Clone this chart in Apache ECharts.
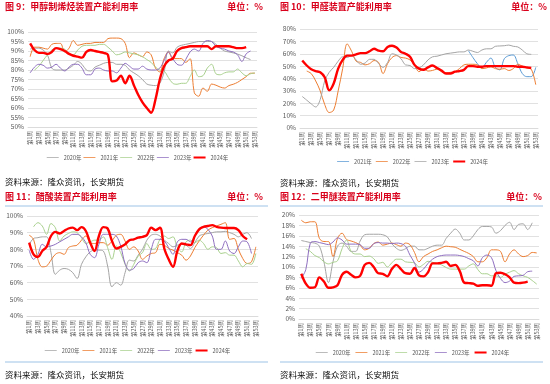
<!DOCTYPE html>
<html><head><meta charset="utf-8">
<script src="https://cdn.jsdelivr.net/npm/echarts/dist/echarts.min.js"></script>
<style>
html,body{margin:0;padding:0;background:#fff;width:550px;height:384px;overflow:hidden}
.p{position:absolute;width:275px;height:192px}
</style></head><body>
<div id="c1" class="p" style="left:0;top:0"></div>
<div id="c2" class="p" style="left:275px;top:0"></div>
<div id="c3" class="p" style="left:0;top:192px"></div>
<div id="c4" class="p" style="left:275px;top:192px"></div>
<script>
const weeks = ['第1周','第2周','第3周','第4周','第5周','第6周','第7周','第8周','第9周','第10周',
'第11周','第12周','第13周','第14周','第15周','第16周','第17周','第18周','第19周','第20周',
'第21周','第22周','第23周','第24周','第25周','第26周','第27周','第28周','第29周','第30周',
'第31周','第32周','第33周','第34周','第35周','第36周','第37周','第38周','第39周','第40周',
'第41周','第42周','第43周','第44周','第45周','第46周','第47周','第48周','第49周','第50周',
'第51周','第52周','第53周'];

// 图9 甲醇制烯烃
const mto2020 = [91,91.5,91.5,90.5,88,81,80,80,80,81, 82.5,84.5,83,80,79.5,81.5,82.5,83.5,84,84, 83,83,82.5,80,78.5,77,75,72.6,72,71.8, 73,79,90,89,92,93,93.5,94,94.5,95, 95,95,95,93.5,91.5,90,89.5,89,88.4,87.5, 86.4,85.5,null];
const mto2021 = [87,92,92,91.5,91,93.5,94,94,89.5,91.5, 95.5,93,93.5,94,94,94.5,94.5,94.5,96.5,96.8, 96.8,96.5,94,86.5,89,88,87,89.5,88,81, 79,86,89.5,86,86,86,84,86,68,66.2, 70.5,68.8,72.6,72,71,70.5,71.8,72.5,73.5,75, 76.5,78.3,78.3];
const mto2022 = [null,80,82,85,88,90.5,91.5,91.5,91,88.5, 88,90.5,92.5,93,93,93,93.5,93.5,92,90, 88,88.5,89.5,89,88.5,88,87,85.5,84,81.5, 80,79.5,76,73,72.5,73,73,76.5,80,76.5, 77,81,83,78,77.5,78.5,79,79,80.5,78.5, 77,78,78.5];
const mto2023 = [78.5,81.5,83,82.5,81,81.5,83,81,79.5,81.5, 83,83,81,77.5,77.5,80.5,81,80,79.5,79.5, 78.5,81,83.5,82,80.5,80.5,82,80.5,80,80, 81,85,89.5,86,83,82.5,85.5,89.5,91,90, 94,95.5,95,92.5,91.5,91,90,89.5,88,84.5, 88.5,90,null];
const mto2024 = [94,90.5,89,89,88.5,89.5,91.5,91,90,88.5, 87.5,87,86.5,89.5,90.5,90,89.5,89,88,74, 74.5,77,73,77,72,67,63,60,57.5,64.5, 75,82,85,86,90,91.5,92,92.5,92.5,92.5, 92.5,92.5,91,92.5,92.5,92.5,92.5,92,91.5,91.5, 92,null,null];

// 图10 甲醛
const hcho2021 = [null,null,null,null,null,null,null,null,null,null, null,null,null,null,null,null,null,null,null,null, null,null,null,null,null,null,null,null,null,null, null,null,null,null,null,null,null, 62.5,57,52,48.5,53,56.5,49,47,56,58.5, 59,52,44,41.5,41.5,49];
const hcho2022 = [null,46,44,38,30,19,12.5,14.5,30,48, 68,62,54,53,51,52,54.5,53,44,52, 57,58.5,57,56.5,55,51,45.5,48,46,46.5, 47.5,45.5,44.5,45,45.5,48,51,51.5,51.5,51, 48,48.5,49.5,48,47.5,48,46.5,48,51.5,50, 48.5,47.5,35];
const hcho2023 = [25.5,22.5,19.5,17,23,38,45,49,54,57.5, 57,58.5,55,51.5,52.5,55.5,55.5,52,49,53, 60,59,56,51,50.5,48,48.5,51,55,57.5, 58,59,60,60.5,61,61.5,61.5,63,62,61, 63,64,64,66,66.3,66.5,67,66,65.5,63, 60,59.5,null];
const hcho2024 = [54.5,50.5,47.5,46,45,41,30.5,36,48,55, 58.5,58.5,59.5,60.5,60.5,62,64,62.5,62,65.5, 66.5,65,61.5,60,57.5,51,48,47,49,50.5, 48.5,46.5,44,44,45.5,46,47,50,50,49.5, 49.5,50,50,50,50,50,50,50,49.5,49.5, 49,48.5,null];

// 图11 醋酸
const ac2020 = [83,86.5,87,87.5,87.5,78,65,67.5,68.5,68, 66,62.5,71,75.5,78.5,79.5,79.5,79,70,57.5, 60,58.5,66,73.5,73,76.5,80,85.5,88.5,89, 88,85.5,83.5,81.5,82.5,83,82.5,80.5,84,88, 89,89.5,90,90.5,90.5,90.8,90,89,87.5,89, 90,86.5,null];
const ac2021 = [88.5,86,74,69.5,70,73.5,77,78,77,81, 82,82.5,85.5,88,84,83.5,84,84,82.5,85, 88.5,89,85,80,81.5,79,74,76,77.5,78, 83,82.5,80.5,79.5,78,76.5,73.5,76,81,85, 88.5,91.5,93,94,95,96,86,86.5,80,74.5, 71.5,72.5,81.5];
const ac2022 = [null,93.5,96,94,89,95.5,93,85,88,89.5, 90.5,90,87,83.5,84.5,85.5,85.5,87.5,81,74, 82,78,71,67,71,76,78,83.5,80,80.5, 86,88,86.5,87.5,81,78.5,84.5,85.5,84,85.5, 83.5,80,81.5,81,77.5,78,76.5,76.5,73,69.5, 71.5,71,77.5];
const ac2023 = [79.5,74,77,83,81.5,82,83,84.5,86,87.5, 89,89,87.5,84,77,75,83,89,89,89, 88,82,71.5,67.5,68.5,72,73,72,80,86, 86,85,81,77,84.5,86,86,84.5,88,92.5, 93.5,92,88,80,80,85,79,77.5,81.5,85, 84.5,77.5,null];
const ac2024 = [84,77,75.5,79,81.5,88,90.5,89.5,91,92.5, 93,91.5,93.3,91,84,79,88,93.3,92.5,85, 80.5,81.5,83,85.5,86,87,87.5,88.5,93,91.5, 93,80.5,74,69.5,79,83.5,83,82.5,88,92, 93.5,94,94.5,93.5,93,92.8,92.8,92.8,91.5,88, 86,null,null];

// 图12 二甲醚
const dme2020 = [15.1,14.9,14.7,14.6,14,11,7,11,14,14.6, 14,13,13,15,16.2,16.3,16.3,16.3,16.2,15.8, 14.5,13.6,13.2,13.5,14,14,13.3,13.3,13.6,14, 14.2,14.2,15.5,16.5,17.3,16.5,15.2,15.2,16,17.2, 17.8,17.8,17.7,16.5,17,18,18.6,17.2,18.2,18.3, 17.2,18.5,null];
const dme2021 = [19,18.5,18.7,18.7,15.5,14.9,14.9,12,15.5,16.5, 15.3,15,14.7,14.2,13.3,13.6,14.5,14.8,14.2,14.4, 14.6,14.3,14,14.6,14.3,12.8,11,12,12.5,13, 13.3,13.7,14,13.9,13.8,13.4,13,12.6,12,11, 11,11.8,13.3,13.3,13,11,12.5,13.3,12.5,12, 12.2,12.8,12.7];
const dme2022 = [null,13.5,13,12.2,11.8,11,10.6,10.9,11.2,13.5, 15.2,13,12.5,12.5,12,12.1,11.6,10.7,10.9,10, 10.8,11.5,11.5,11,10.9,10.8,10,10.5,11.1,10.9, 10.7,10.4,9.9,9.6,9.6,9.6,9.6,10.2,10.6,9.5, 8.7,8.7,8.3,8.3,8,8.6,9,9.3,8.7,8.3, 8,7.4,6.7];
const dme2023 = [7.8,9.5,14.6,14.9,14.7,14.5,14.3,14.8,15.6,15.2, 14.4,14.4,14.4,14.3,13.6,13.6,14.5,14.7,14.6,14.6, 14.5,14.6,14.5,14,12.3,10.8,9,9.6,10.7,11.5, 12,12.2,12.3,12.3,12.3,12.2,12,11.6,11.2,10.2, 11.8,12.3,11.8,9.3,7.8,7,7.3,8.2,8.3,8.4, 9.1,9.2,null];
const dme2024 = [8.7,6.8,6,6.1,8,7.2,6,6.1,6.5,8.5, 9.1,8.5,8,8.3,10.4,10.8,10,8.8,8.7,8.2, 9.6,10.4,9.6,8.8,8.7,9.8,8.4,8.2,9,10.7, 10.7,10.8,11,10.2,10.4,9.2,7,6.9,6.8,6.4, 6.5,6.5,6.4,8.8,8.9,8.6,8,7,6.9,7, 7.2,null,null];

const titles = ['图 9：甲醇制烯烃装置产能利用率','图 10：甲醛装置产能利用率','图 11：醋酸装置产能利用率','图 12：二甲醚装置产能利用率'];
const unitText = '单位：%';
const sourceText = '资料来源：隆众资讯，长安期货';

const RED = '#ff0000', TRED = '#d9001b', GRAY = '#a5a5a5', ORANGE = '#ed7d31', GREEN = '#a9d18e', PURPLE = '#8f6fc0', BLUE = '#5b9bd5';
const FONT = '"Noto Sans CJK SC","Noto Sans",sans-serif';
const THIN_ICON = 'path://M0,3.5h14v1h-14z M0,0h0.01v8h-0.01z';
const THICK_ICON = 'path://M0,2.8h14v2.4h-14z M0,0h0.01v8h-0.01z';

const panels = [
  {id:'c1', title:titles[0], ty:7, ux:263, grid:{left:28,right:18,top:32,bottom:65}, min:50, max:100, interval:5, legendY:158, sy:182, rules:false, gap:2,
   series:[['2020年',mto2020,GRAY],['2021年',mto2021,ORANGE],['2022年',mto2022,GREEN],['2023年',mto2023,PURPLE],['2024年',mto2024,RED]]},
  {id:'c2', title:titles[1], ty:7, ux:272, grid:{left:25,right:12,top:29,bottom:64}, min:0, max:80, interval:10, legendY:162, sy:183, rules:false, gap:4,
   series:[['2021年',hcho2021,BLUE],['2022年',hcho2022,ORANGE],['2023年',hcho2023,GRAY],['2024年',hcho2024,RED]]},
  {id:'c3', title:titles[2], ty:5, ux:263, grid:{left:27,right:17,top:24,bottom:68}, min:40, max:100, interval:10, legendY:159, sy:183, rules:true, gap:3,
   series:[['2020年',ac2020,GRAY],['2021年',ac2021,ORANGE],['2022年',ac2022,GREEN],['2023年',ac2023,PURPLE],['2024年',ac2024,RED]]},
  {id:'c4', title:titles[3], ty:5, ux:267, grid:{left:24,right:11,top:23,bottom:65}, min:0, max:20, interval:2, legendY:161, sy:183, rules:true, gap:5,
   series:[['2020年',dme2020,GRAY],['2021年',dme2021,ORANGE],['2022年',dme2022,GREEN],['2023年',dme2023,PURPLE],['2024年',dme2024,RED]]}
];

panels.forEach(p => {
  const chart = echarts.init(document.getElementById(p.id), null, {renderer:'canvas'});
  const tStyle = {color:TRED, fontSize:9, fontWeight:'bold', fontFamily:FONT, lineHeight:12};
  const graphic = [];
  if (p.rules) {
    graphic.push({type:'line', shape:{x1:5,y1:14,x2:268,y2:14}, style:{stroke:'#9dc3e6', lineWidth:1}});
    graphic.push({type:'line', shape:{x1:5,y1:170,x2:268,y2:170}, style:{stroke:'#9dc3e6', lineWidth:1}});
  }
  chart.setOption({
    animation:false,
    backgroundColor:'#fff',
    textStyle:{fontFamily:FONT},
    title:[
      {text:p.title, left:5, top:p.ty-6, padding:0, textStyle:tStyle},
      {text:unitText, right:275-p.ux, top:p.ty-6, padding:0, textStyle:tStyle},
      {text:sourceText, left:5, top:p.sy-6, padding:0, textStyle:{color:'#111', fontSize:8.5, fontWeight:'normal', fontFamily:FONT, lineHeight:12}}
    ],
    graphic: graphic,
    grid: Object.assign({outerBoundsMode:'none', containLabel:false}, p.grid),
    legend:{top:p.legendY-4, left:'center', itemWidth:12, itemHeight:8, itemGap:p.gap, padding:0,
      textStyle:{fontSize:5.5, color:'#595959', fontFamily:FONT},
      data:p.series.map(s=>({name:s[0], icon: s[2]===RED ? THICK_ICON : THIN_ICON, itemStyle:{color:s[2], borderWidth:0}}))},
    xAxis:{type:'category', data:weeks, boundaryGap:true,
      axisTick:{show:false}, axisLine:{lineStyle:{color:'#d9d9d9', width:0.8}},
      axisLabel:{rotate:90, interval:1, fontSize:5.5, color:'#595959', margin:4, fontFamily:FONT}},
    yAxis:{type:'value', min:p.min, max:p.max, interval:p.interval,
      axisLine:{show:false}, axisTick:{show:false},
      axisLabel:{formatter:'{value}%', fontSize:6.5, color:'#595959', margin:4, fontFamily:FONT},
      splitLine:{lineStyle:{color:'#d9d9d9', width:0.8}}},
    series:p.series.map(s => ({
      name:s[0], type:'line', data:s[1], smooth:0.35, symbol:'none', showSymbol:false,
      connectNulls:false,
      lineStyle:{color:s[2], width: s[2]===RED ? 2.4 : 1},
      itemStyle:{color:s[2]},
      z: s[2]===RED ? 5 : 2
    }))
  });
});
</script>
</body></html>
